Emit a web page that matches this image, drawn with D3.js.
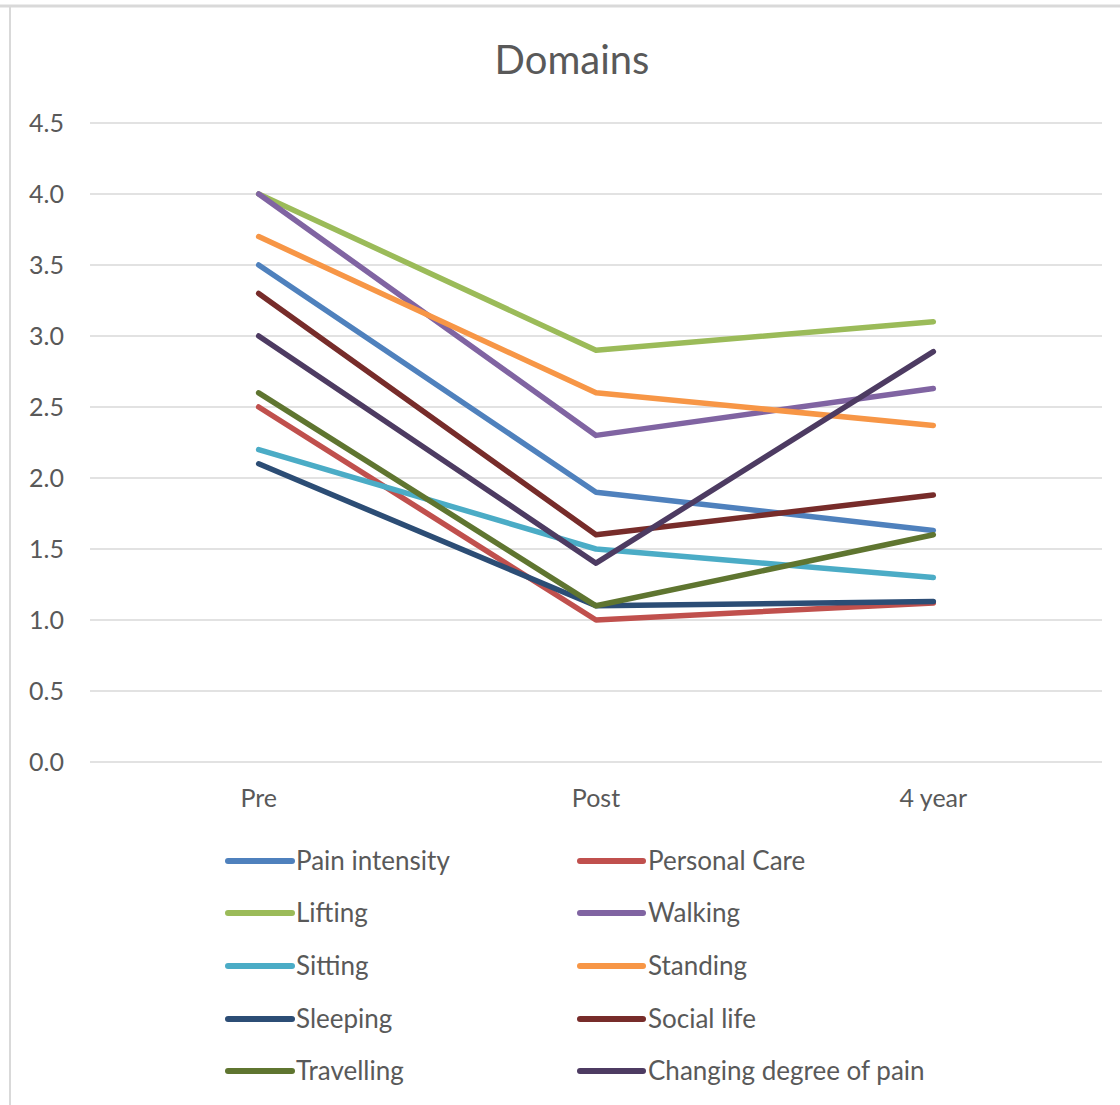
<!DOCTYPE html>
<html><head><meta charset="utf-8">
<script src="https://cdnjs.cloudflare.com/ajax/libs/d3/7.8.5/d3.min.js"></script>
<style>body{margin:0;background:#fff;}svg{display:block;}</style>
</head><body>
<script>
const categories = ["Pre", "Post", "4 year"];
const seriesNames = ["Pain intensity","Personal Care","Lifting","Walking","Sitting","Standing","Sleeping","Social life","Travelling","Changing degree of pain"];
const painIntensity = [3.5, 1.9, 1.63];
const personalCare = [2.5, 1.0, 1.12];
const lifting = [4.0, 2.9, 3.1];
const walking = [4.0, 2.3, 2.63];
const sitting = [2.2, 1.5, 1.3];
const standing = [3.7, 2.6, 2.37];
const sleeping = [2.1, 1.1, 1.13];
const socialLife = [3.3, 1.6, 1.88];
const travelling = [2.6, 1.1, 1.6];
const changingPain = [3.0, 1.4, 2.89];
const seriesValues = [painIntensity, personalCare, lifting, walking, sitting, standing, sleeping, socialLife, travelling, changingPain];
const colors = ["#4F81BD","#C0504D","#9BBB59","#8064A2","#4BACC6","#F79646","#2C4D75","#772C2A","#5F7530","#4D3B62"];
const yTicks = [0,0.5,1,1.5,2,2.5,3,3.5,4,4.5];
const title = "Domains";

const W = 1120, H = 1105;
const font = "Lato, 'Open Sans', sans-serif";
const svg = d3.select("body").append("svg").attr("width", W).attr("height", H);
svg.append("rect").attr("width", W).attr("height", H).attr("fill", "#fff");
// frame
svg.append("line").attr("x1",0).attr("x2",W).attr("y1",6).attr("y2",6).attr("stroke","#d9d9d9").attr("stroke-width",3);
svg.append("line").attr("x1",10).attr("x2",10).attr("y1",6).attr("y2",H).attr("stroke","#d9d9d9").attr("stroke-width",2);

const x = d3.scaleBand().domain(categories).range([90, 1102]).padding(0);
const y = d3.scaleLinear().domain([0, 4.5]).range([762, 123]);

// gridlines
svg.append("g").selectAll("line").data(yTicks).join("line")
  .attr("x1", 90).attr("x2", 1102)
  .attr("y1", d => y(d)).attr("y2", d => y(d))
  .attr("stroke", "#d9d9d9").attr("stroke-width", 1.5);

// y axis
const yAxis = d3.axisLeft(y).tickValues(yTicks).tickFormat(d3.format(".1f")).tickSize(0).tickPadding(0);
const gy = svg.append("g").attr("transform", "translate(64,0)").call(yAxis);
gy.select(".domain").remove();
gy.selectAll("text").attr("font-family", font).attr("font-size", 25).attr("fill", "#595959");

// x axis
const xAxis = d3.axisBottom(x).tickSize(0).tickPadding(0);
const gx = svg.append("g").attr("transform", "translate(0,789)").call(xAxis);
gx.select(".domain").remove();
gx.selectAll("text").attr("font-family", font).attr("font-size", 25).attr("fill", "#595959");

// title
svg.append("text").attr("x", 572).attr("y", 74).attr("text-anchor", "middle")
  .attr("font-family", font).attr("font-size", 40).attr("fill", "#595959").text(title);

// lines
const line = d3.line().x((d, i) => x(categories[i]) + x.bandwidth() / 2).y(d => y(d));
svg.append("g").selectAll("path").data(seriesValues).join("path")
  .attr("d", d => line(d))
  .attr("fill", "none")
  .attr("stroke", (d, i) => colors[i])
  .attr("stroke-width", 5.5)
  .attr("stroke-linejoin", "round")
  .attr("stroke-linecap", "round");

// legend
const legendRows = [861, 913, 966, 1019, 1071];
const legendCols = [[228, 292, 296], [580, 643, 648]];
const lg = svg.append("g");
seriesNames.forEach((name, i) => {
  const row = Math.floor(i / 2), col = i % 2;
  const cy = legendRows[row];
  const c = legendCols[col];
  lg.append("line").attr("x1", c[0]).attr("x2", c[1]).attr("y1", cy).attr("y2", cy)
    .attr("stroke", colors[i]).attr("stroke-width", 6).attr("stroke-linecap", "round");
  lg.append("text").attr("x", c[2]).attr("y", cy).attr("dy", "0.35em")
    .attr("font-family", font).attr("font-size", 26).attr("fill", "#595959").text(name);
});
</script>
</body></html>
